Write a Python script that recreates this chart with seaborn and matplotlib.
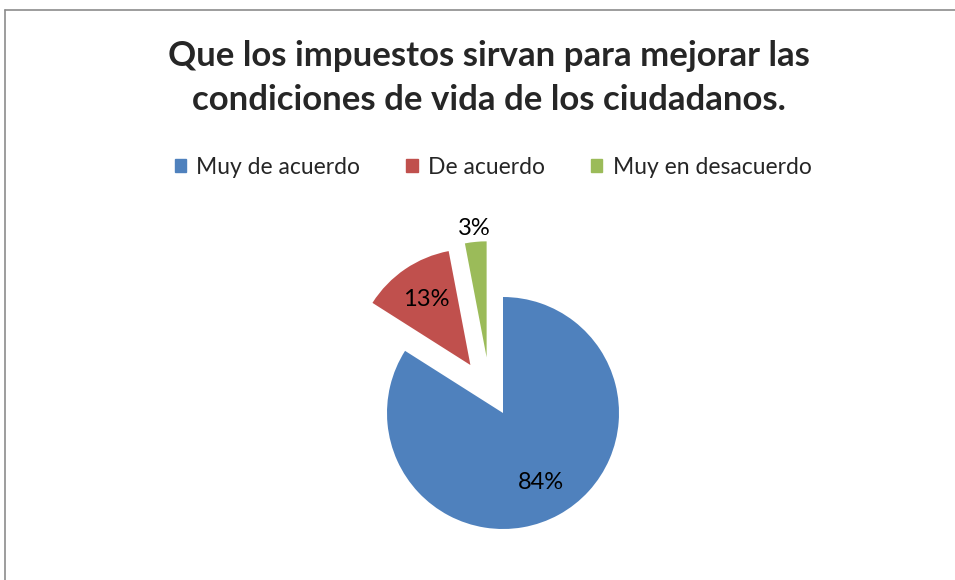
import numpy as np
import matplotlib
matplotlib.use("Agg")
import matplotlib.pyplot as plt
import seaborn as sns
from matplotlib.lines import Line2D

categories = ["Muy de acuerdo", "De acuerdo", "Muy en desacuerdo"]
values = [84, 13, 3]
colors = ["#4F81BD", "#C0504D", "#9BBB59"]
title = "Que los impuestos sirvan para mejorar las\ncondiciones de vida de los ciudadanos."

sns.set_theme(style="white")
plt.rcParams['font.family'] = ['Lato', 'DejaVu Sans']

W, H = 955, 580
fig = plt.figure(figsize=(W / 100, H / 100), dpi=100)
fig.patch.set_facecolor("white")

# border of chart area
fig.add_artist(Line2D([5 / W, 5 / W], [0, 1 - 10 / H], color="#8C8C8C", lw=1.2, transform=fig.transFigure))
fig.add_artist(Line2D([5 / W, 1], [1 - 10 / H, 1 - 10 / H], color="#8C8C8C", lw=1.2, transform=fig.transFigure))

# pie axes (pixel layout)
px0, px1, py_top, py_bot = 300, 706, 200, 580
cx, cy, R = 503, 413, 116
ax = fig.add_axes([px0 / W, 1 - py_bot / H, (px1 - px0) / W, (py_bot - py_top) / H])
explode = [0, 0.5, 0.5]
wedges, texts, autotexts = ax.pie(values, colors=colors, startangle=90, counterclock=False,
                                  explode=explode, autopct="%1.0f%%", pctdistance=0.68,
                                  textprops=dict(fontsize=17, color="black"),
                                  wedgeprops=dict(linewidth=0))
ax.set_xlim(-(cx - px0) / R, (px1 - cx) / R)
ax.set_ylim(-(py_bot - cy) / R, (cy - py_top) / R)
ax.axis("off")

# small slice: explosion direction tilted a bit further left (as in the reference)
w = wedges[2]
mid = np.deg2rad((w.theta1 + w.theta2) / 2)
d = np.deg2rad((w.theta1 + w.theta2) / 2 + 11)
new_c = (explode[2] * np.cos(d), explode[2] * np.sin(d))
w.set_center(new_c)
autotexts[2].set_position((new_c[0] + 1.12 * np.cos(mid), new_c[1] + 1.12 * np.sin(mid)))

fig.text(489 / W, 1 - 78 / H, title, ha="center", va="center",
         fontsize=25, fontweight="bold", linespacing=1.5)

handles = [plt.Rectangle((0, 0), 1, 1, color=c) for c in colors]
fig.legend(handles, categories, loc="center", bbox_to_anchor=(493 / W, 1 - 167 / H), ncol=3,
           frameon=False, fontsize=16.5, handlelength=0.5, handleheight=0.5, handletextpad=0.45,
           columnspacing=2.0)

fig.savefig("out.png", dpi=100)
